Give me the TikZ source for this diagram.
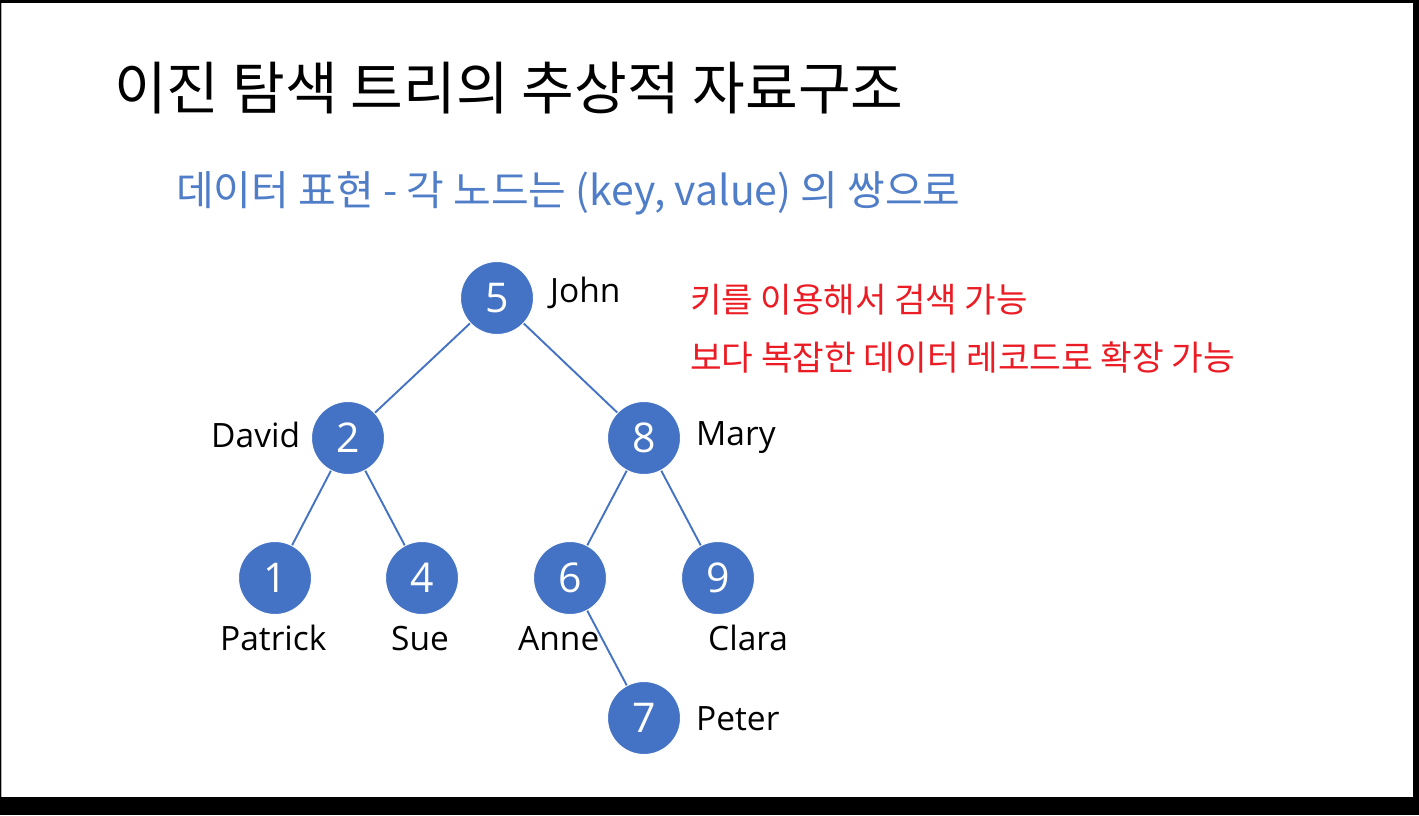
\documentclass[tikz,border=0pt]{standalone}
\usepackage{fontspec}
\setmainfont{Open Sans}
\newfontfamily\kr{Noto Sans CJK KR}
\definecolor{nodeblue}{RGB}{68,114,196}
\definecolor{subblue}{RGB}{79,125,200}
\definecolor{redtxt}{RGB}{235,28,36}
\begin{document}
\begin{tikzpicture}[x=1pt,y=-1pt,
  keynode/.style={circle,fill=nodeblue,draw=white,line width=1pt,minimum size=73pt,inner sep=0pt,text=white,font=\fontsize{41}{41}\selectfont},
  lbl/.style={text=black,font=\fontsize{33.5}{33.5}\selectfont,inner sep=0pt,anchor=base west},
  link/.style={draw=nodeblue,line width=1.9pt}]
\useasboundingbox (0,0) rectangle (1419,815);
\fill[black] (0,0) rectangle (1419,815);
\fill[white] (2,3) rectangle (1413,797);
\draw[gray!60,line width=1pt] (1.5,3) -- (1.5,797);
% title
\node[anchor=base west,inner sep=0pt,font=\kr\fontsize{57.3}{57.3}\selectfont] (title) at (114,109) {이진 탐색 트리의 추상적 자료구조};
\node[anchor=base west,inner sep=0pt,text=subblue,font=\kr\fontsize{41}{41}\selectfont] (sub) at (176,205) {데이터 표현 - 각 노드는 (key, value) 의 쌍으로};
\node[anchor=base west,inner sep=0pt,text=redtxt,font=\kr\fontsize{34.2}{34.2}\selectfont] (r1) at (690,312) {키를 이용해서 검색 가능};
\node[anchor=base west,inner sep=0pt,text=redtxt,font=\kr\fontsize{34.4}{34.4}\selectfont] (r2) at (690,370) {보다 복잡한 데이터 레코드로 확장 가능};
% nodes
\node[keynode] (n5) at (497,298) {5};
\node[keynode] (n2) at (348,438) {2};
\node[keynode] (n8) at (644,438) {8};
\node[keynode] (n1) at (275,578) {1};
\node[keynode] (n4) at (422,578) {4};
\node[keynode] (n6) at (570,578) {6};
\node[keynode] (n9) at (718,578) {9};
\node[keynode] (n7) at (644,718) {7};
% edges
\draw[link] (n5) -- (n2);
\draw[link] (n5) -- (n8);
\draw[link] (n2) -- (n1);
\draw[link] (n2) -- (n4);
\draw[link] (n8) -- (n6);
\draw[link] (n8) -- (n9);
\draw[link] (n6) -- (n7);
% names
\node[lbl] (lJohn) at (550,302) {John};
\node[lbl] (lDavid) at (211,447) {David};
\node[lbl] (lMary) at (696,445) {Mary};
\node[lbl] (lPatrick) at (220,650) {Patrick};
\node[lbl] (lSue) at (391,650) {Sue};
\node[lbl] (lAnne) at (518,650) {Anne};
\node[lbl] (lClara) at (708,650) {Clara};
\node[lbl] (lPeter) at (696,730) {Peter};
\end{tikzpicture}
\end{document}
